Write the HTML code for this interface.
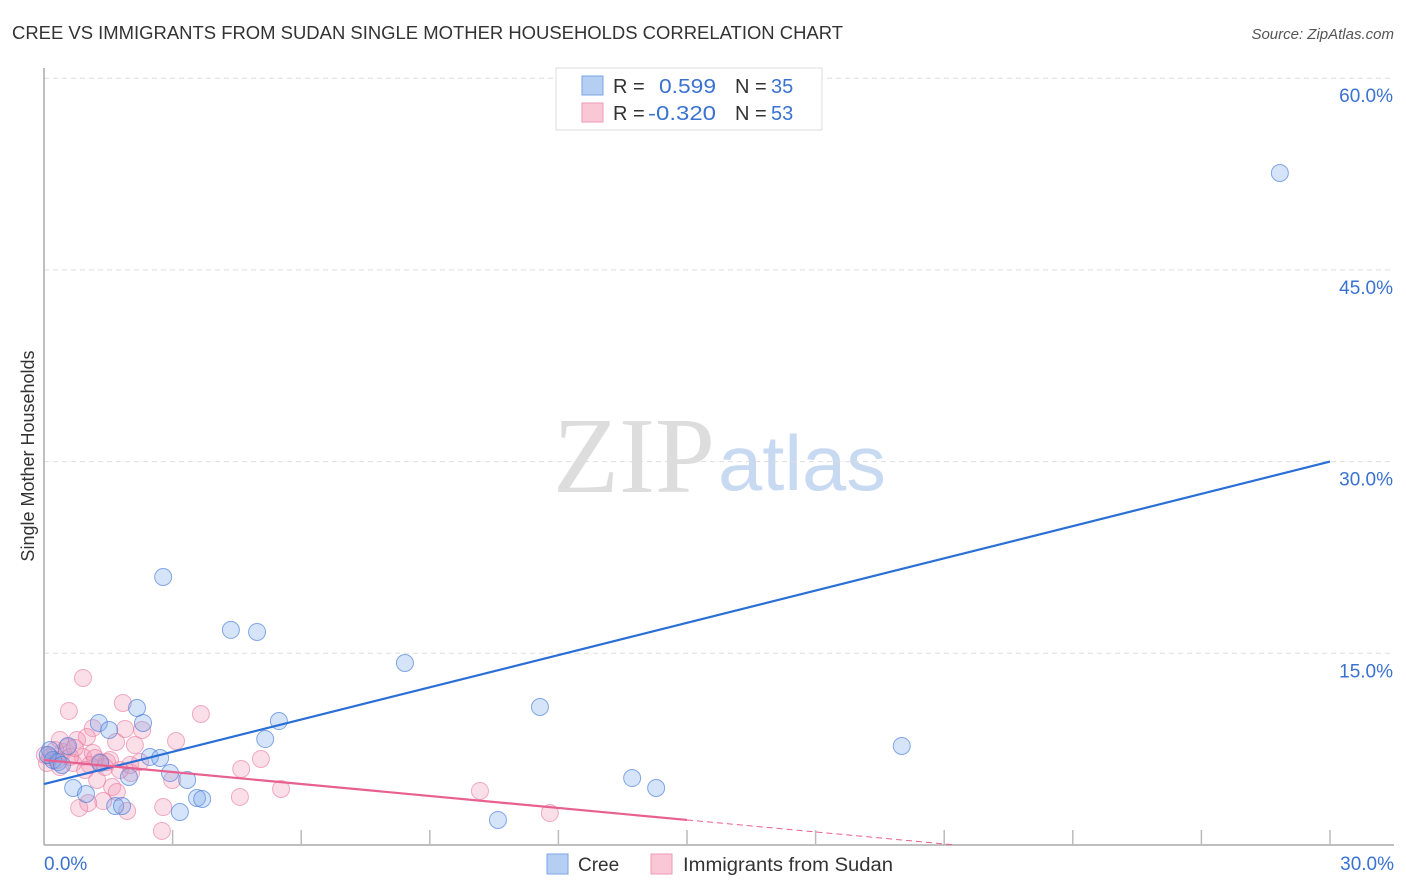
<!DOCTYPE html>
<html><head><meta charset="utf-8">
<style>
body{margin:0;background:#fff;font-family:"Liberation Sans",sans-serif;}
#wrap{position:relative;width:1406px;height:892px;overflow:hidden;}
</style></head>
<body>
<div id="wrap">
<svg id="chart" width="1406" height="892">
<text x="12" y="39" font-size="18" fill="#333" textLength="831" lengthAdjust="spacingAndGlyphs">CREE VS IMMIGRANTS FROM SUDAN SINGLE MOTHER HOUSEHOLDS CORRELATION CHART</text>
<text x="1394" y="39" font-size="15" fill="#555" font-style="italic" text-anchor="end">Source: ZipAtlas.com</text>
<text transform="translate(34,456) rotate(-90)" font-size="18" fill="#333" text-anchor="middle">Single Mother Households</text>
<text x="553" y="492" font-size="108" fill="#ddd" font-family="Liberation Serif,serif" textLength="162" lengthAdjust="spacingAndGlyphs">ZIP</text>
<text x="718" y="490" font-size="78" fill="#c8daf2" textLength="168" lengthAdjust="spacingAndGlyphs">atlas</text>
<g id="grid"></g>
<g id="axes"></g>
<g id="pts"></g>
<g id="lines"></g>
<g>
<rect x="556" y="68" width="266" height="62" fill="#fff" stroke="#ddd"/>
<rect x="582" y="76" width="21" height="19" fill="#b5cff3" stroke="#7aa6e6"/>
<rect x="582" y="103" width="21" height="19" fill="#f9c7d6" stroke="#ef9ab6"/>
<text x="613" y="93" font-size="20" fill="#333">R =</text>
<text x="659" y="93" font-size="20" fill="#3a72d1" textLength="57" lengthAdjust="spacingAndGlyphs">0.599</text>
<text x="735" y="93" font-size="20" fill="#333">N =</text>
<text x="771" y="93" font-size="20" fill="#3a72d1">35</text>
<text x="613" y="120" font-size="20" fill="#333">R =</text>
<text x="648" y="120" font-size="20" fill="#3a72d1" textLength="68" lengthAdjust="spacingAndGlyphs">-0.320</text>
<text x="735" y="120" font-size="20" fill="#333">N =</text>
<text x="771" y="120" font-size="20" fill="#3a72d1">53</text>
</g>
<g>
<rect x="547" y="854" width="21" height="20" fill="#b5cff3" stroke="#7aa6e6"/>
<text x="578" y="871" font-size="19" fill="#333">Cree</text>
<rect x="651" y="854" width="21" height="20" fill="#f9c7d6" stroke="#ef9ab6"/>
<text x="683" y="871" font-size="19" fill="#333" textLength="210" lengthAdjust="spacingAndGlyphs">Immigrants from Sudan</text>
</g>
</svg>
</div>
<script>
const yTicks=[15,30,45,60];
const yTickLabels=["15.0%","30.0%","45.0%","60.0%"];
const xTicks=[3,6,9,12,15,18,21,24,27,30];
const blueX=[28.83,2.78,4.36,4.97,8.42,11.57,20.01,1.28,1.52,2.17,2.31,2.47,2.71,2.94,3.34,3.57,3.69,3.17,1.98,0.68,0.98,1.66,1.82,0.56,0.14,0.21,5.16,5.48,13.72,14.28,10.59,0.09,0.33,0.42,1.31];
const blueY=[52.58,20.97,16.83,16.67,14.24,10.80,7.75,9.55,9.00,10.72,9.55,6.89,6.81,5.63,5.09,3.68,3.60,2.58,5.32,4.46,3.99,3.05,3.05,7.75,7.43,6.65,8.29,9.70,5.24,4.46,1.96,7.04,6.49,6.26,6.42];
const pinkX=[0.91,0.58,1.84,3.66,1.89,2.29,1.68,2.12,3.08,1.14,1.00,0.77,4.60,5.06,5.53,4.57,2.78,2.75,2.99,1.24,1.59,1.70,1.38,1.03,0.82,1.94,2.03,0.44,0.30,0.14,0.68,0.91,1.14,1.31,1.47,0.07,0.37,0.54,10.17,11.80,0.26,0.02,0.61,1.07,1.54,2.01,1.19,1.42,0.37,0.72,0.96,1.77,2.24];
const pinkY=[13.07,10.49,11.11,10.25,9.08,9.00,8.06,7.82,8.14,9.15,8.45,8.22,5.95,6.73,4.38,3.76,2.97,1.10,5.09,5.09,4.54,4.15,3.44,3.29,2.90,2.66,5.63,7.28,6.65,6.89,6.42,6.89,7.20,6.49,6.49,6.42,6.10,7.67,4.23,2.50,7.43,7.04,6.89,6.26,6.65,6.26,6.81,6.10,8.22,7.59,5.87,5.87,6.49];
const blueLine=[4.77,30.0];
const pinkLine=[6.65,1.96,15,0];
const NS="http://www.w3.org/2000/svg";
const X0=44,X1=1330,Y0=845,PXY=12.78;
const sx=v=>X0+(X1-X0)*v/30;
const sy=v=>Y0-v*PXY;
function mk(t,a,p){const e=document.createElementNS(NS,t);for(const k in a)e.setAttribute(k,a[k]);p.appendChild(e);return e;}
const grid=document.getElementById('grid'),axes=document.getElementById('axes'),pts=document.getElementById('pts'),lines=document.getElementById('lines');
yTicks.forEach((t,i)=>{
 const l=mk('line',{x1:X0,x2:1394,y1:sy(t),y2:sy(t),stroke:'#ddd','stroke-dasharray':'5,4'},grid);
 
 
 const tx=mk('text',{x:1393,y:sy(t)+24,'font-size':19,fill:'#3a72d1','text-anchor':'end'},grid);
 tx.textContent=yTickLabels[i];
 
 
});
const ya=mk('line',{x1:X0,x2:X0,y1:68,y2:Y0,stroke:'#aaa','stroke-width':1.5},axes);


const xa=mk('line',{x1:X0,x2:1394,y1:Y0,y2:Y0,stroke:'#aaa','stroke-width':1.5},axes);


xTicks.forEach(t=>{
 const l=mk('line',{x1:sx(t),x2:sx(t),y1:Y0-15,y2:Y0,stroke:'#bbb','stroke-width':1.5},axes);
 
 
});
const xl0=mk('text',{x:44,y:870,'font-size':19,fill:'#3a72d1'},axes);xl0.textContent='0.0%';


const xl1=mk('text',{x:1394,y:870,'font-size':19,fill:'#3a72d1','text-anchor':'end'},axes);xl1.textContent='30.0%';


pinkX.forEach((x,i)=>{
 const c=mk('circle',{cx:sx(x),cy:sy(pinkY[i]),r:8.5,fill:'rgba(243,150,180,0.3)',stroke:'rgba(232,120,160,0.6)','stroke-width':1},pts);
 
 
});
blueX.forEach((x,i)=>{
 const c=mk('circle',{cx:sx(x),cy:sy(blueY[i]),r:8.5,fill:'rgba(120,165,235,0.3)',stroke:'rgba(70,125,215,0.65)','stroke-width':1},pts);
 
 
});
const bl=mk('line',{x1:sx(0),y1:sy(blueLine[0]),x2:sx(30),y2:sy(blueLine[1]),stroke:'#2a6fd6','stroke-width':2.2},lines);


const slope=(pinkLine[1]-pinkLine[0])/15;
const pl=mk('line',{x1:sx(0),y1:sy(pinkLine[0]),x2:sx(pinkLine[2]),y2:sy(pinkLine[0]+slope*pinkLine[2]),stroke:'#e8608f','stroke-width':2.2},lines);


const xEnd=-pinkLine[0]/slope;
const pd=mk('line',{x1:sx(pinkLine[2]),y1:sy(pinkLine[0]+slope*pinkLine[2]),x2:sx(xEnd),y2:sy(pinkLine[3]),stroke:'#e8608f','stroke-width':1,'stroke-dasharray':'6,4'},lines);


</script>
</body></html>
